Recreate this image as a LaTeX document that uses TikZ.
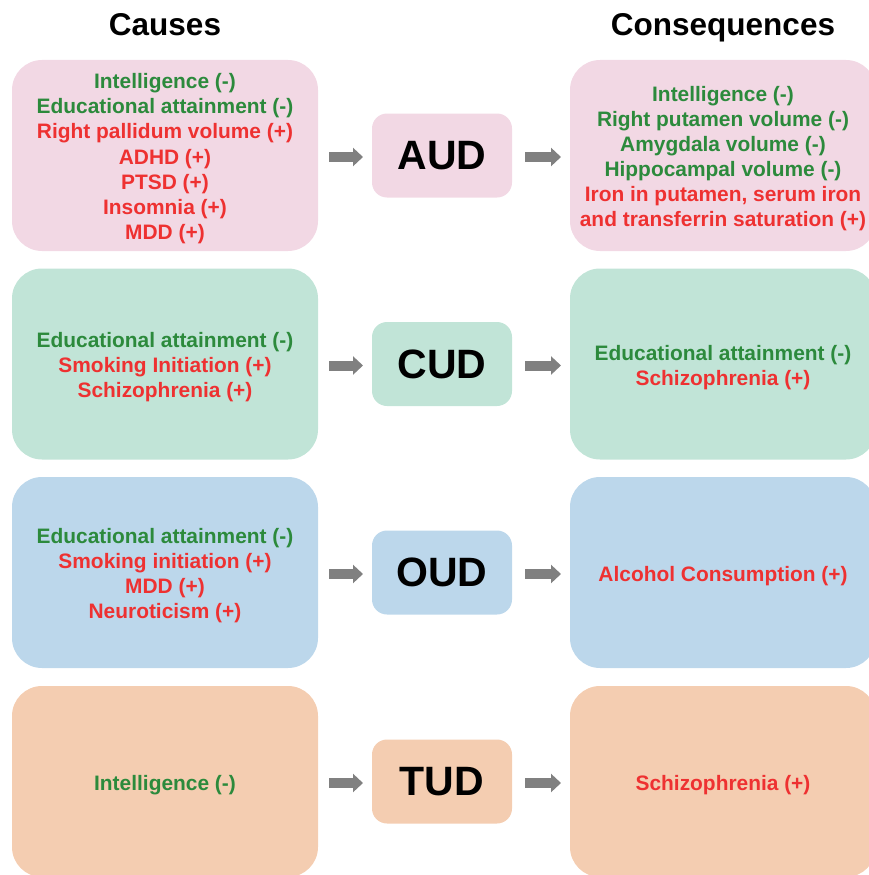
\documentclass[tikz,border=0pt]{standalone}
\usepackage{fontspec}
\setmainfont{Liberation Sans}
\usetikzlibrary{positioning, arrows.meta}
\definecolor{audfill}{HTML}{F2D8E4}
\definecolor{cudfill}{HTML}{C1E4D7}
\definecolor{oudfill}{HTML}{BCD7EB}
\definecolor{tudfill}{HTML}{F4CDB1}
\definecolor{dgreen}{HTML}{2C8A3C}
\definecolor{dred}{HTML}{EE3131}
\definecolor{arrowgray}{HTML}{808080}
\tikzset{x=1pt, y=-1pt,
every node/.style={outer sep=0pt},
title/.style={anchor=base, font=\bfseries\fontsize{31.5}{36}\selectfont},
causebox/.style={rounded corners=30pt, minimum width=306pt, minimum height=191pt,
  align=center, font=\bfseries\fontsize{20.9}{25.1}\selectfont},
consbox/.style={causebox},
midbox/.style={rounded corners=15pt, minimum width=140pt, minimum height=84pt,
  font=\bfseries\fontsize{41}{46}\selectfont},
flow/.style={arrowgray, line width=10pt, -{Triangle[length=10pt, width=18pt]}},
}
\newcommand{\decr}[1]{\textcolor{dgreen}{#1}}
\newcommand{\incr}[1]{\textcolor{dred}{#1}}
\newcommand{\tstrut}{\rule{0pt}{21.5pt}}

\begin{document}
\begin{tikzpicture}
\useasboundingbox (0,0) rectangle (869,875);
    \node[title] (causes) at (165,36) {Causes};
    \node[title] (conseq) at (723,36) {Consequences};
    % AUD
    \node[causebox, fill=audfill] (c1) at (165,155.5) {\tstrut\decr{Intelligence (-)}\\ \decr{Educational attainment (-)}\\ \incr{Right pallidum volume (+)}\\ \incr{ADHD (+)}\\ \incr{PTSD (+)}\\ \incr{Insomnia (+)}\\ \incr{MDD (+)}};
    \node[midbox, fill=audfill, right=54pt of c1] (aud) {AUD};
    \node[consbox, fill=audfill, right=58pt of aud] (r1) {\tstrut\decr{Intelligence (-)}\\ \decr{Right putamen volume (-)}\\ \decr{Amygdala volume (-)}\\ \decr{Hippocampal volume (-)}\\ \incr{Iron in putamen, serum iron}\\ \incr{and transferrin saturation (+)}};
    % CUD
    \node[causebox, fill=cudfill] (c2) at (165,364) {\tstrut\decr{Educational attainment (-)}\\ \incr{Smoking Initiation (+)}\\ \incr{Schizophrenia (+)}};
    \node[midbox, fill=cudfill, right=54pt of c2] (cud) {CUD};
    \node[consbox, fill=cudfill, right=58pt of cud] (r2) {\tstrut\decr{Educational attainment (-)}\\ \incr{Schizophrenia (+)}};
    % OUD
    \node[causebox, fill=oudfill] (c3) at (165,572.5) {\tstrut\decr{Educational attainment (-)}\\ \incr{Smoking initiation (+)}\\ \incr{MDD (+)}\\ \incr{Neuroticism (+)}};
    \node[midbox, fill=oudfill, right=54pt of c3] (oud) {OUD};
    \node[consbox, fill=oudfill, right=58pt of oud] (r3) {\tstrut\incr{Alcohol Consumption (+)}};
    % TUD
    \node[causebox, fill=tudfill] (c4) at (165,781.5) {\tstrut\decr{Intelligence (-)}};
    \node[midbox, fill=tudfill, right=54pt of c4] (tud) {TUD};
    \node[consbox, fill=tudfill, right=58pt of tud] (r4) {\tstrut\incr{Schizophrenia (+)}};
    \foreach \c/\m/\r in {c1/aud/r1, c2/cud/r2, c3/oud/r3, c4/tud/r4} {
      \draw[flow, shorten <=11pt, shorten >=9pt] ([yshift=-1.5pt]\c.east) -- ([yshift=-1.5pt]\m.west);
      \draw[flow, shorten <=13pt, shorten >=9pt] ([yshift=-1.5pt]\m.east) -- ([yshift=-1.5pt]\r.west);
    }
\end{tikzpicture}
\end{document}
